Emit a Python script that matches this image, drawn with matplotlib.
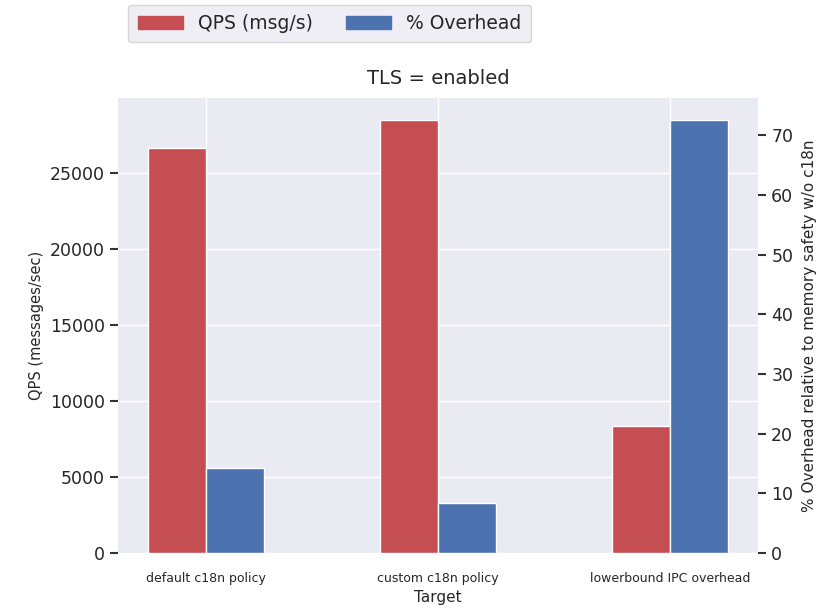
import matplotlib
matplotlib.use("Agg")
import matplotlib.pyplot as plt
import matplotlib.patches as mpatches
import seaborn as sns
import numpy as np

targets = ["default c18n policy", "custom c18n policy", "lowerbound IPC overhead"]
qps = [26600, 28480, 8350]
overhead = [14.3, 8.4, 72.6]

sns.set_theme(style="darkgrid")
sns.set_color_codes("deep")
plt.rcParams["font.family"] = ["DejaVu Sans"]

fig = plt.figure(figsize=(8.21, 6.08), dpi=100)
ax = fig.add_axes([0.1437, 0.0905, 0.7796, 0.7483])
ax2 = ax.twinx()

x = np.arange(len(targets))
w = 0.25
ax.bar(x - w / 2, qps, w, color="r", edgecolor="white", linewidth=1)
ax2.bar(x + w / 2, overhead, w, color="b", edgecolor="white", linewidth=1)

ax.set_xlim(-0.38, 2.38)
ax.set_ylim(0, max(qps) * 1.05)
ax2.set_ylim(0, max(overhead) * 1.05)
ax2.grid(False)

ax.set_xticks(x)
ax.set_xticklabels(targets, fontsize=9)
ax.set_xlabel("Target", fontsize=11, labelpad=3)
ax.set_ylabel("QPS (messages/sec)", fontsize=10.5)
ax2.set_ylabel("% Overhead relative to memory safety w/o c18n", fontsize=11, labelpad=6)
ax.tick_params(axis="y", labelsize=12.5, left=True, length=6, width=1.5, color="#333333")
ax2.tick_params(axis="y", labelsize=12.5, right=True, length=6, width=1.5, color="#333333")
ax.tick_params(axis="x", bottom=False, pad=8)
ax.set_title("TLS = enabled", fontsize=14, pad=10)

for a in (ax, ax2):
    for s in a.spines.values():
        s.set_visible(False)

handles = [mpatches.Patch(color="r", label="QPS (msg/s)"),
           mpatches.Patch(color="b", label="% Overhead")]
fig.legend(handles=handles, loc="upper left", ncol=2, fontsize=13.5,
           bbox_to_anchor=(0.145, 1.008), columnspacing=1.8, handlelength=2.4,
           borderpad=0.5)

fig.savefig("out.png", dpi=100)
